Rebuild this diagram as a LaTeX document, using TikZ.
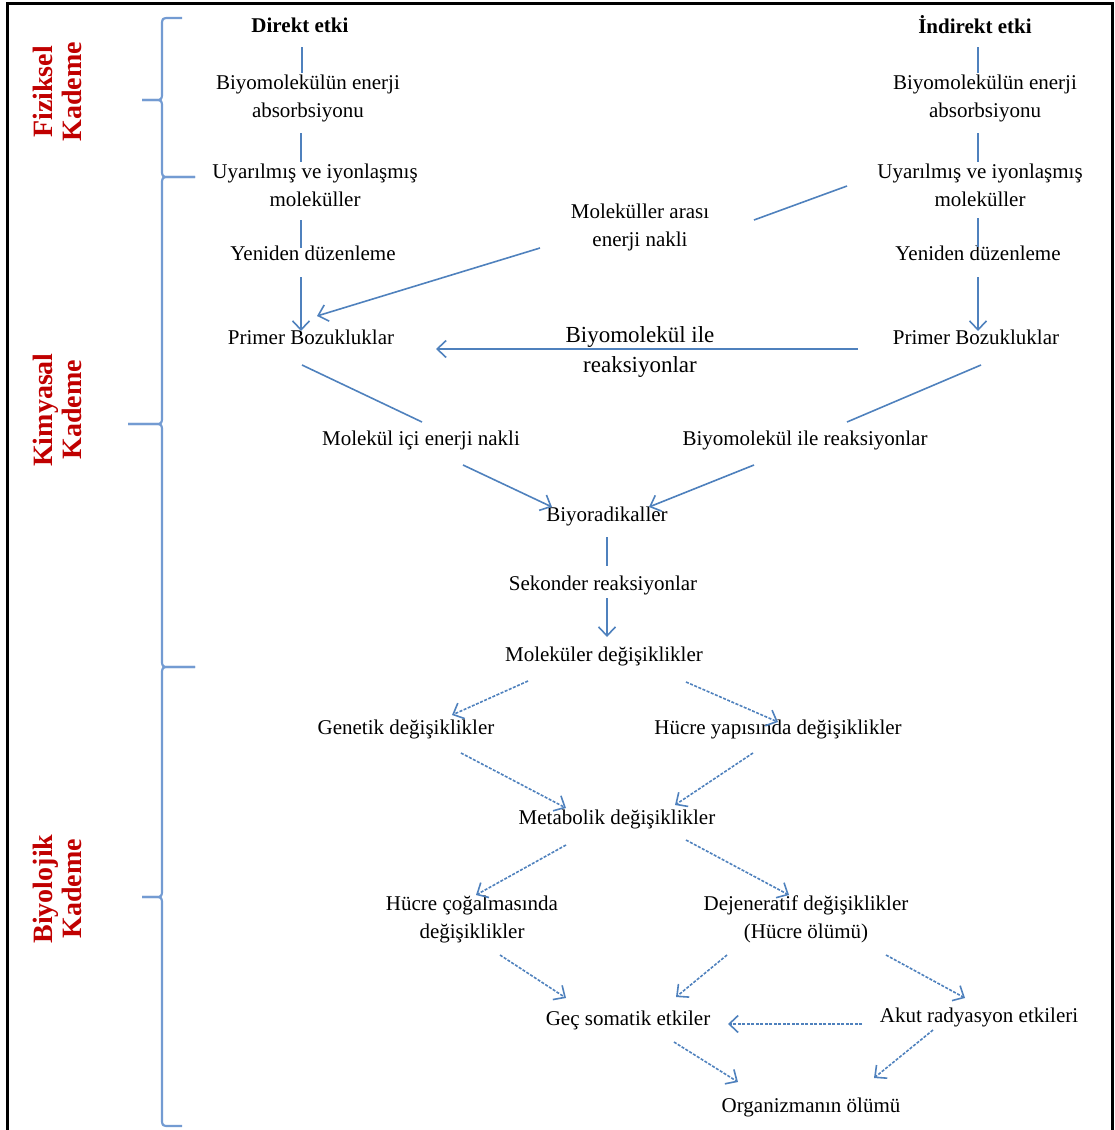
\documentclass[tikz,border=0pt]{standalone}
\usepackage{fontspec}
\setmainfont{Liberation Serif}
\usetikzlibrary{arrows.meta,calc}
\definecolor{lineblue}{RGB}{79,129,189}
\definecolor{braceblue}{RGB}{115,155,210}
\definecolor{kred}{RGB}{192,0,0}
\newcommand\fsmain{\fontsize{21}{28}\selectfont}
\newcommand\fsmid{\fontsize{23}{30}\selectfont}
\newcommand\fsside{\fontsize{28}{29}\selectfont\bfseries}
\begin{document}
\begin{tikzpicture}[x=1pt,y=-1pt,
  lbl/.style={font=\fsmain, align=center, inner sep=0pt},
  midlbl/.style={font=\fsmid, align=center, inner sep=0pt},
  head/.style={font=\fsmain\bfseries, inner sep=0pt},
  side/.style={font=\fsside, text=kred, align=center, rotate=90, inner sep=0pt},
  conn/.style={draw=lineblue, line width=1.6pt},
  arr/.style={conn, -{Straight Barb[length=9pt,width=17pt,line width=1.6pt]}},
  darr/.style={arr, dash pattern=on 3pt off 1.5pt},
  bracepath/.style={draw=braceblue, line width=2.2pt, line join=round}
]
\useasboundingbox (0,0) rectangle (1115,1130);
% frame
\draw[line width=3pt] (7,1132) -- (7,3) -- (1112,3) -- (1112,1132);

% side labels
\node[side] (fiz) at (57,92) {Fiziksel\\Kademe};
\node[side] (kim) at (57,410) {Kimyasal\\Kademe};
\node[side] (biy) at (57,889) {Biyolojik\\Kademe};

% braces
\def\bx{162}
\draw[bracepath] (182,18) -- (170,18) .. controls (\bx,18) .. (\bx,26) -- (\bx,92) .. controls (\bx,100) .. (154,100) -- (142,100);
\draw[bracepath] (142,100) -- (154,100) .. controls (\bx,100) .. (\bx,108) -- (\bx,169) .. controls (\bx,177) .. (170,177) -- (195,177);
\draw[bracepath] (195,177) -- (170,177) .. controls (\bx,177) .. (\bx,185) -- (\bx,416) .. controls (\bx,424) .. (154,424) -- (128,424);
\draw[bracepath] (128,424) -- (154,424) .. controls (\bx,424) .. (\bx,432) -- (\bx,659) .. controls (\bx,667) .. (170,667) -- (195,667);
\draw[bracepath] (195,667) -- (170,667) .. controls (\bx,667) .. (\bx,675) -- (\bx,889) .. controls (\bx,897) .. (154,897) -- (142,897);
\draw[bracepath] (142,897) -- (154,897) .. controls (\bx,897) .. (\bx,905) -- (\bx,1118) .. controls (\bx,1126) .. (170,1126) -- (182,1126);

% nodes
\node[head] (dL) at (300,25) {Direkt etki};
\node[head] (iR) at (975,25) {İndirekt etki};
\node[lbl] (a1L) at (308,98) {Biyomolekülün enerji\\absorbsiyonu};
\node[lbl] (a1R) at (985,98) {Biyomolekülün enerji\\absorbsiyonu};
\node[lbl] (u1L) at (315,185) {Uyarılmış ve iyonlaşmış\\moleküller};
\node[lbl] (u1R) at (980,185) {Uyarılmış ve iyonlaşmış\\moleküller};
\node[lbl] (yL) at (313,253) {Yeniden düzenleme};
\node[lbl] (yR) at (978,253) {Yeniden düzenleme};
\node[lbl] (pL) at (311,337) {Primer Bozukluklar};
\node[lbl] (pR) at (976,337) {Primer Bozukluklar};
\node[lbl] (mae) at (640,227) {Moleküller arası\\enerji nakli};
\node[midlbl] (bir) at (640,352) {Biyomolekül ile\\reaksiyonlar};
\node[lbl] (mie) at (421,440) {Molekül içi enerji nakli};
\node[lbl] (bir2) at (805,440) {Biyomolekül ile reaksiyonlar};
\node[lbl] (bio) at (607,516) {Biyoradikaller};
\node[lbl] (sek) at (603,585) {Sekonder reaksiyonlar};
\node[lbl] (mold) at (604,656) {Moleküler değişiklikler};
\node[lbl] (gen) at (406,729) {Genetik değişiklikler};
\node[lbl] (hyd) at (778,729) {Hücre yapısında değişiklikler};
\node[lbl] (met) at (617,819) {Metabolik değişiklikler};
\node[lbl] (hcd) at (472,919) {Hücre çoğalmasında\\değişiklikler};
\node[lbl] (dej) at (806,919) {Dejeneratif değişiklikler\\(Hücre ölümü)};
\node[lbl] (gec) at (628,1020) {Geç somatik etkiler};
\node[lbl] (akut) at (979,1017) {Akut radyasyon etkileri};
\node[lbl] (org) at (811,1107) {Organizmanın ölümü};

% solid connectors
\draw[conn] ([shift={(2,22)}]dL.center) -- ([shift={(-6,-25)}]a1L.center);
\draw[conn] ([shift={(-7,35)}]a1L.center) -- ([shift={(-14,-23)}]u1L.center);
\draw[conn] ([shift={(-14,35)}]u1L.center) -- ([shift={(-12,-5)}]yL.center);
\draw[arr] ([shift={(-12,24)}]yL.center) -- ([shift={(-10,-6)}]pL.center);
\draw[conn] ([shift={(3,22)}]iR.center) -- ([shift={(-7,-25)}]a1R.center);
\draw[conn] ([shift={(-7,35)}]a1R.center) -- ([shift={(-2,-23)}]u1R.center);
\draw[conn] ([shift={(-2,33)}]u1R.center) -- ([shift={(0,-6)}]yR.center);
\draw[arr] ([shift={(0,24)}]yR.center) -- ([shift={(2,-6)}]pR.center);
\draw[arr] ([shift={(-100,21)}]mae.center) -- ([shift={(6,-21)}]pL.center);
\draw[conn] ([shift={(-133,1)}]u1R.center) -- ([shift={(114,-7)}]mae.center);
\draw[arr] ([shift={(-118,12)}]pR.center) -- ([shift={(125,12)}]pL.center);
\draw[conn] ([shift={(-9,28)}]pL.center) -- ([shift={(1,-18)}]mie.center);
\draw[conn] ([shift={(5,28)}]pR.center) -- ([shift={(42,-18)}]bir2.center);
\draw[arr] ([shift={(42,25)}]mie.center) -- ([shift={(-55,-9)}]bio.center);
\draw[arr] ([shift={(-51,25)}]bir2.center) -- ([shift={(42,-9)}]bio.center);
\draw[conn] ([shift={(0,21)}]bio.center) -- ([shift={(4,-19)}]sek.center);
\draw[arr] ([shift={(4,13)}]sek.center) -- ([shift={(3,-19)}]mold.center);

% dashed connectors
\draw[darr] ([shift={(-76,25)}]mold.center) -- ([shift={(46,-14)}]gen.center);
\draw[darr] ([shift={(82,26)}]mold.center) -- ([shift={(0,-7)}]hyd.center);
\draw[darr] ([shift={(55,24)}]gen.center) -- ([shift={(-51,-11)}]met.center);
\draw[darr] ([shift={(-25,24)}]hyd.center) -- ([shift={(58,-14)}]met.center);
\draw[darr] ([shift={(-51,26)}]met.center) -- ([shift={(4,-24)}]hcd.center);
\draw[darr] ([shift={(69,21)}]met.center) -- ([shift={(-17,-24)}]dej.center);
\draw[darr] ([shift={(28,36)}]hcd.center) -- ([shift={(-62,-22)}]gec.center);
\draw[darr] ([shift={(-79,36)}]dej.center) -- ([shift={(48,-23)}]gec.center);
\draw[darr] ([shift={(80,36)}]dej.center) -- ([shift={(-14,-19)}]akut.center);
\draw[darr] ([shift={(-117,7)}]akut.center) -- ([shift={(100,4)}]gec.center);
\draw[darr] ([shift={(46,22)}]gec.center) -- ([shift={(-73,-25)}]org.center);
\draw[darr] ([shift={(-46,13)}]akut.center) -- ([shift={(63,-29)}]org.center);
\end{tikzpicture}
\end{document}
